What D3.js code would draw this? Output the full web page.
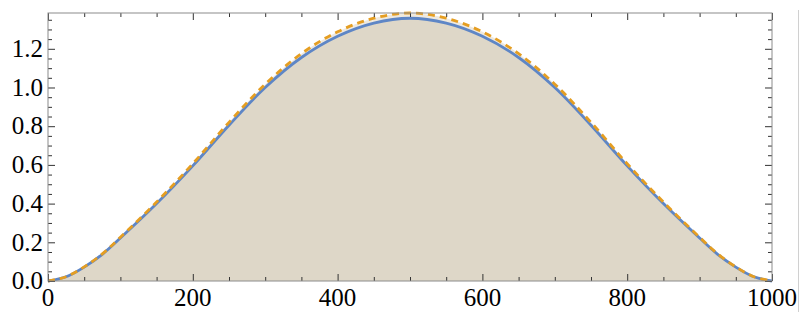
<!DOCTYPE html>
<html>
<head>
<meta charset="utf-8">
<script src="https://cdn.jsdelivr.net/npm/d3@7"></script>
<style>
  body { margin: 0; background: #fff; }
  svg { display: block; }
</style>
</head>
<body>
<div id="chart"></div>
<script>
// values
const xs = [0, 25, 50, 75, 100, 150, 200, 250, 300, 350, 400, 450, 500, 550, 600, 650, 700, 750, 800, 850, 900, 925, 950, 975, 1000];
const solidValues = [0, 0.022, 0.072, 0.138, 0.222, 0.4, 0.595, 0.805, 1.0, 1.155, 1.265, 1.333, 1.358, 1.333, 1.265, 1.155, 1.0, 0.805, 0.595, 0.4, 0.222, 0.138, 0.072, 0.022, 0];
const dashedValues = [0, 0.022, 0.073, 0.14, 0.226, 0.408, 0.606, 0.82, 1.017, 1.175, 1.288, 1.358, 1.385, 1.358, 1.288, 1.175, 1.017, 0.82, 0.606, 0.408, 0.226, 0.14, 0.073, 0.022, 0];
const xTickLabels = [0, 200, 400, 600, 800, 1000];
const yTickLabels = [0.0, 0.2, 0.4, 0.6, 0.8, 1.0, 1.2];

const width = 806, height = 320;
const plotLeft = 48, plotRight = 772, plotTop = 13, plotBottom = 281;
const labelFont = '"Liberation Serif", "Times New Roman", "DejaVu Serif", serif';

const svg = d3.select('#chart').append('svg')
    .attr('width', width)
    .attr('height', height);

const x = d3.scaleLinear().domain([0, 1000]).range([plotLeft, plotRight]);
const y = d3.scaleLinear().domain([0, 1.385]).range([plotBottom, plotTop]);

const solid = xs.map((d, i) => ({ x: d, y: solidValues[i] }));
const dashed = xs.map((d, i) => ({ x: d, y: dashedValues[i] }));

const area = d3.area()
    .x(d => x(d.x))
    .y0(y(0))
    .y1(d => y(d.y))
    .curve(d3.curveCatmullRom);

const line = d3.line()
    .x(d => x(d.x))
    .y(d => y(d.y))
    .curve(d3.curveCatmullRom);

svg.append('defs').append('clipPath').attr('id', 'plot')
    .append('rect')
    .attr('x', plotLeft).attr('y', plotTop - 4)
    .attr('width', plotRight - plotLeft + 2).attr('height', plotBottom - plotTop + 6);

const plot = svg.append('g').attr('clip-path', 'url(#plot)');

// fills to the axis
plot.append('path').datum(dashed)
    .attr('d', area)
    .attr('fill', '#efe9de');
plot.append('path').datum(solid)
    .attr('d', area)
    .attr('fill', '#ded7c8');

// curves
plot.append('path').datum(solid)
    .attr('d', line)
    .attr('fill', 'none')
    .attr('stroke', '#5e86c6')
    .attr('stroke-width', 2.8);
plot.append('path').datum(dashed)
    .attr('d', line)
    .attr('fill', 'none')
    .attr('stroke', '#e59e22')
    .attr('stroke-width', 2.8)
    .attr('stroke-dasharray', '7,5');

// axes with major and minor ticks on all four sides
const xMajor = xTickLabels;
const xMinor = d3.range(0, 1001, 50).filter(v => v % 200 !== 0);
const yMajor = yTickLabels;
const yMinor = d3.range(0, 1.38, 0.05).map(v => +v.toFixed(2)).filter(v => Math.round(v * 100) % 20 !== 0);

function addAxis(axis, ticks, size, transform) {
    const g = svg.append('g')
        .attr('transform', transform)
        .call(axis.tickValues(ticks).tickSize(size).tickFormat(''));
    g.select('.domain').remove();
    g.selectAll('.tick line').attr('stroke', '#333').attr('stroke-width', 1);
    g.selectAll('.tick text').remove();
    return g;
}

addAxis(d3.axisTop(x), xMajor, 7, `translate(0,${plotBottom})`);
addAxis(d3.axisTop(x), xMinor, 4, `translate(0,${plotBottom})`);
addAxis(d3.axisBottom(x), xMajor, 7, `translate(0,${plotTop})`);
addAxis(d3.axisBottom(x), xMinor, 4, `translate(0,${plotTop})`);
addAxis(d3.axisRight(y), yMajor, 7, `translate(${plotLeft},0)`);
addAxis(d3.axisRight(y), yMinor, 4, `translate(${plotLeft},0)`);
addAxis(d3.axisLeft(y), yMajor, 7, `translate(${plotRight},0)`);
addAxis(d3.axisLeft(y), yMinor, 4, `translate(${plotRight},0)`);

// frame
svg.append('rect')
    .attr('x', plotLeft).attr('y', plotTop)
    .attr('width', plotRight - plotLeft).attr('height', plotBottom - plotTop)
    .attr('fill', 'none')
    .attr('stroke', '#8c8c8c')
    .attr('stroke-width', 1);

// tick labels
svg.append('g').selectAll('text')
    .data(xTickLabels)
    .enter().append('text')
    .attr('font-family', labelFont)
    .attr('font-size', 25)
    .attr('fill', '#000')
    .attr('x', d => x(d))
    .attr('y', plotBottom + 25)
    .attr('text-anchor', 'middle')
    .text(d => d);

svg.append('g').selectAll('text')
    .data(yTickLabels)
    .enter().append('text')
    .attr('font-family', labelFont)
    .attr('font-size', 25)
    .attr('fill', '#000')
    .attr('x', plotLeft - 5)
    .attr('y', d => y(d))
    .attr('dy', '0.33em')
    .attr('text-anchor', 'end')
    .text(d => d.toFixed(1));

// thin light line at the right edge of the picture
svg.append('line')
    .attr('x1', 798.5).attr('x2', 798.5)
    .attr('y1', 10).attr('y2', 312)
    .attr('stroke', '#d0d0d0')
    .attr('stroke-width', 1);
</script>
</body>
</html>
